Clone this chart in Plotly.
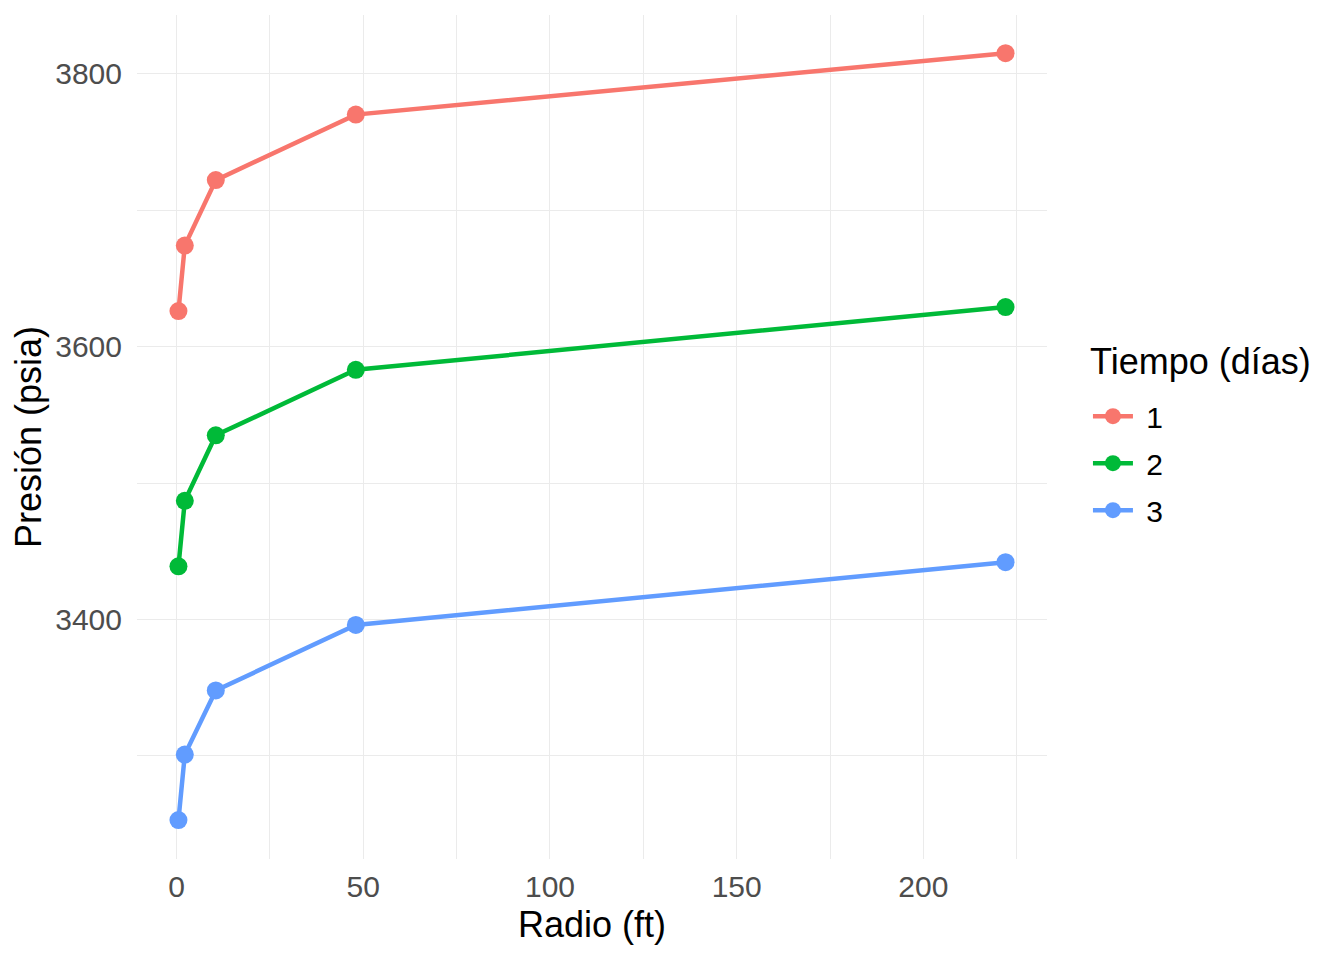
import plotly.graph_objects as go

# radial distance (ft) and pressure (psia) per time step
RADIO = [0.5, 2.2, 10.5, 48.0, 222.0]
TIEMPOS = ["1", "2", "3"]
PRESION = {
    "1": [3626, 3674, 3722, 3770, 3815],
    "2": [3439, 3487, 3535, 3583, 3629],
    "3": [3253, 3301, 3348, 3396, 3442],
}
COLORS = {"1": "#F8766D", "2": "#00BA38", "3": "#619CFF"}

GRID = "#EBEBEB"
TICK_FONT = dict(family="Liberation Sans, Arial", size=30, color="#4D4D4D")
TITLE_FONT = dict(family="Liberation Sans, Arial", size=36, color="black")

fig = go.Figure()
for t in TIEMPOS:
    fig.add_trace(
        go.Scatter(
            x=RADIO,
            y=PRESION[t],
            mode="lines+markers",
            name="\u00a0" + t,  # nbsp pushes the label off the key like ggplot
            legendgroup=t,
            line=dict(color=COLORS[t], width=4.5),
            marker=dict(color=COLORS[t], size=18),
        )
    )

# legend title drawn as an annotation so the gap to the items matches
fig.add_annotation(
    text="Tiempo (días)",
    xref="paper", yref="paper",
    x=1.045, y=0.589,
    xanchor="left", yanchor="middle",
    showarrow=False,
    font=TITLE_FONT,
)

# page body adds an 8px offset, so the margins are shifted by 8px
fig.update_layout(
    width=1344,
    height=960,
    margin=dict(l=129, r=305, t=7, b=109),
    plot_bgcolor="white",
    paper_bgcolor="white",
    font=dict(family="Liberation Sans, Arial", color="black"),
    legend=dict(
        font=dict(family="Liberation Sans, Arial", size=30, color="black"),
        x=1.045,
        xanchor="left",
        y=0.469,
        yanchor="middle",
        tracegroupgap=5,
        itemwidth=40,
        bgcolor="rgba(0,0,0,0)",
    ),
)
fig.update_xaxes(
    range=[-10.6, 233.1],
    tickmode="array",
    tickvals=[0, 50, 100, 150, 200],
    showgrid=True,
    gridcolor=GRID,
    gridwidth=1.3,
    minor=dict(tickvals=[25, 75, 125, 175, 225], showgrid=True, gridcolor=GRID, gridwidth=0.7),
    zeroline=False,
    showline=False,
    ticks="",
    tickfont=TICK_FONT,
    ticklabelstandoff=7,
    title=dict(text="Radio (ft)", font=TITLE_FONT, standoff=9),
)
fig.update_yaxes(
    range=[3224.5, 3843],
    tickmode="array",
    tickvals=[3400, 3600, 3800],
    showgrid=True,
    gridcolor=GRID,
    gridwidth=1.3,
    minor=dict(tickvals=[3300, 3500, 3700], showgrid=True, gridcolor=GRID, gridwidth=0.7),
    zeroline=False,
    showline=False,
    ticks="",
    tickfont=TICK_FONT,
    ticklabelstandoff=14,
    title=dict(text="Presión (psia)", font=TITLE_FONT, standoff=6),
)

fig.write_html("out.html")
